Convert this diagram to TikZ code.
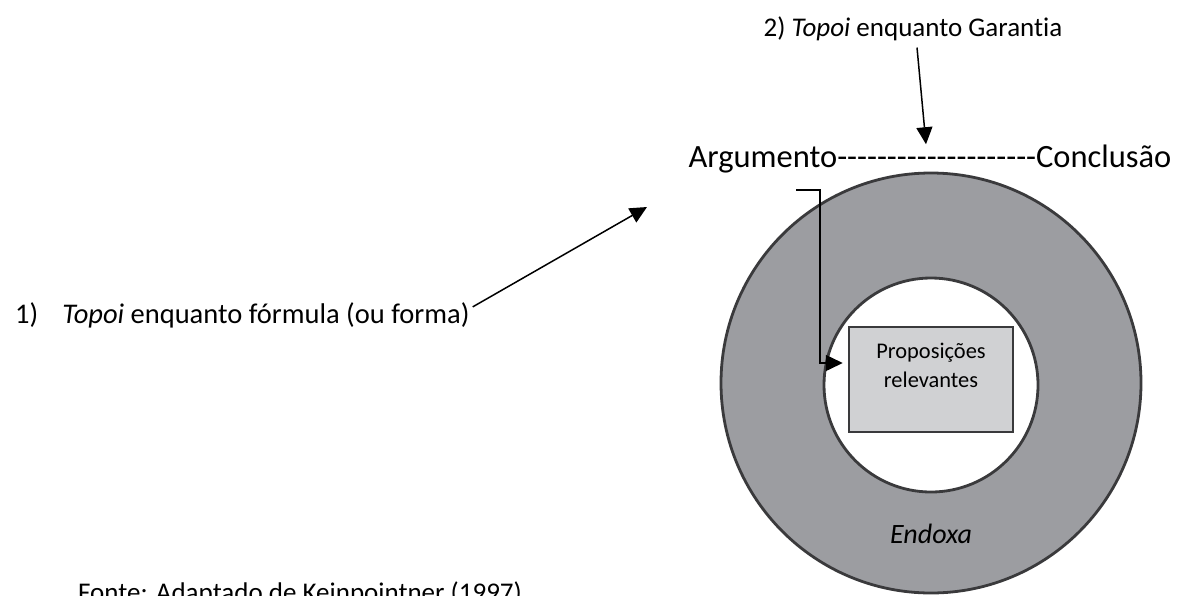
\documentclass[tikz,border=0pt]{standalone}
\usepackage{fontspec}
\setmainfont{Carlito}[Ligatures=NoCommon]
\usepackage{tikz}
\usetikzlibrary{arrows.meta}

\definecolor{ringgray}{RGB}{156,157,161}
\definecolor{boxgray}{RGB}{208,209,211}
\definecolor{edgegray}{RGB}{58,58,60}

\newcommand{\dashrun}[1]{\foreach \k in {1,...,#1}{\mbox{-}}}

\begin{document}
\begin{tikzpicture}[x=1pt, y=-1pt,
    pointer/.style={line width=1.5pt, -{Triangle[length=17pt, width=16pt]}},
    ring/.style={circle, draw=edgegray, line width=2.8pt, inner sep=0pt},
    every node/.style={color=black, inner sep=0pt}
    ]

\useasboundingbox (0,0) rectangle (1188,595);
\clip (0,0) rectangle (1188,595);

\node (endoxaring) [ring, fill=ringgray, minimum size=420pt] at (931,383) {};

\node (innerring) [ring, fill=white, minimum size=214pt] at (931,385) {};

\node (relevantes) [rectangle, draw=edgegray, fill=boxgray, line width=2.5pt,
    minimum width=164pt, minimum height=105pt, align=center,
    font=\fontsize{22.4}{29}\selectfont] at (931,379.5)
        {Proposições\\relevantes\\\mbox{}};

\node (endoxa) [anchor=base, font=\fontsize{28}{33}\selectfont\itshape]
    at (931,543) {Endoxa};

\node (garantia) [anchor=base, font=\fontsize{27}{32}\selectfont]
    at (913,36) {2) \textit{Topoi} enquanto Garantia};

\node (argconc) [anchor=base, font=\fontsize{32.5}{38}\selectfont]
    at (930,167) {Argumento\dashrun{20}Conclusão};

\node (formula) [anchor=base west, font=\fontsize{28.5}{34}\selectfont]
    at (15,323) {1)\hspace{24pt}\textit{Topoi} enquanto fórmula (ou forma)};

\node (fonte) [anchor=base west, font=\fontsize{27}{32}\selectfont]
    at (78,601) {Fonte: Adaptado de Keinpointner (1997)};

\coordinate (formhead) at (647,207);
\coordinate (argfoot) at (796,190);

\draw[pointer] ([xshift=4pt,yshift=-7pt]garantia.south)
    -- ([xshift=-4pt]argconc.north);

\draw[pointer] ([xshift=3pt,yshift=8pt]formula.east) -- (formhead);

\draw[pointer] (argfoot) -- ++(24,0)
    |- ([xshift=-5pt,yshift=16.5pt]relevantes.west);

\end{tikzpicture}
\end{document}
